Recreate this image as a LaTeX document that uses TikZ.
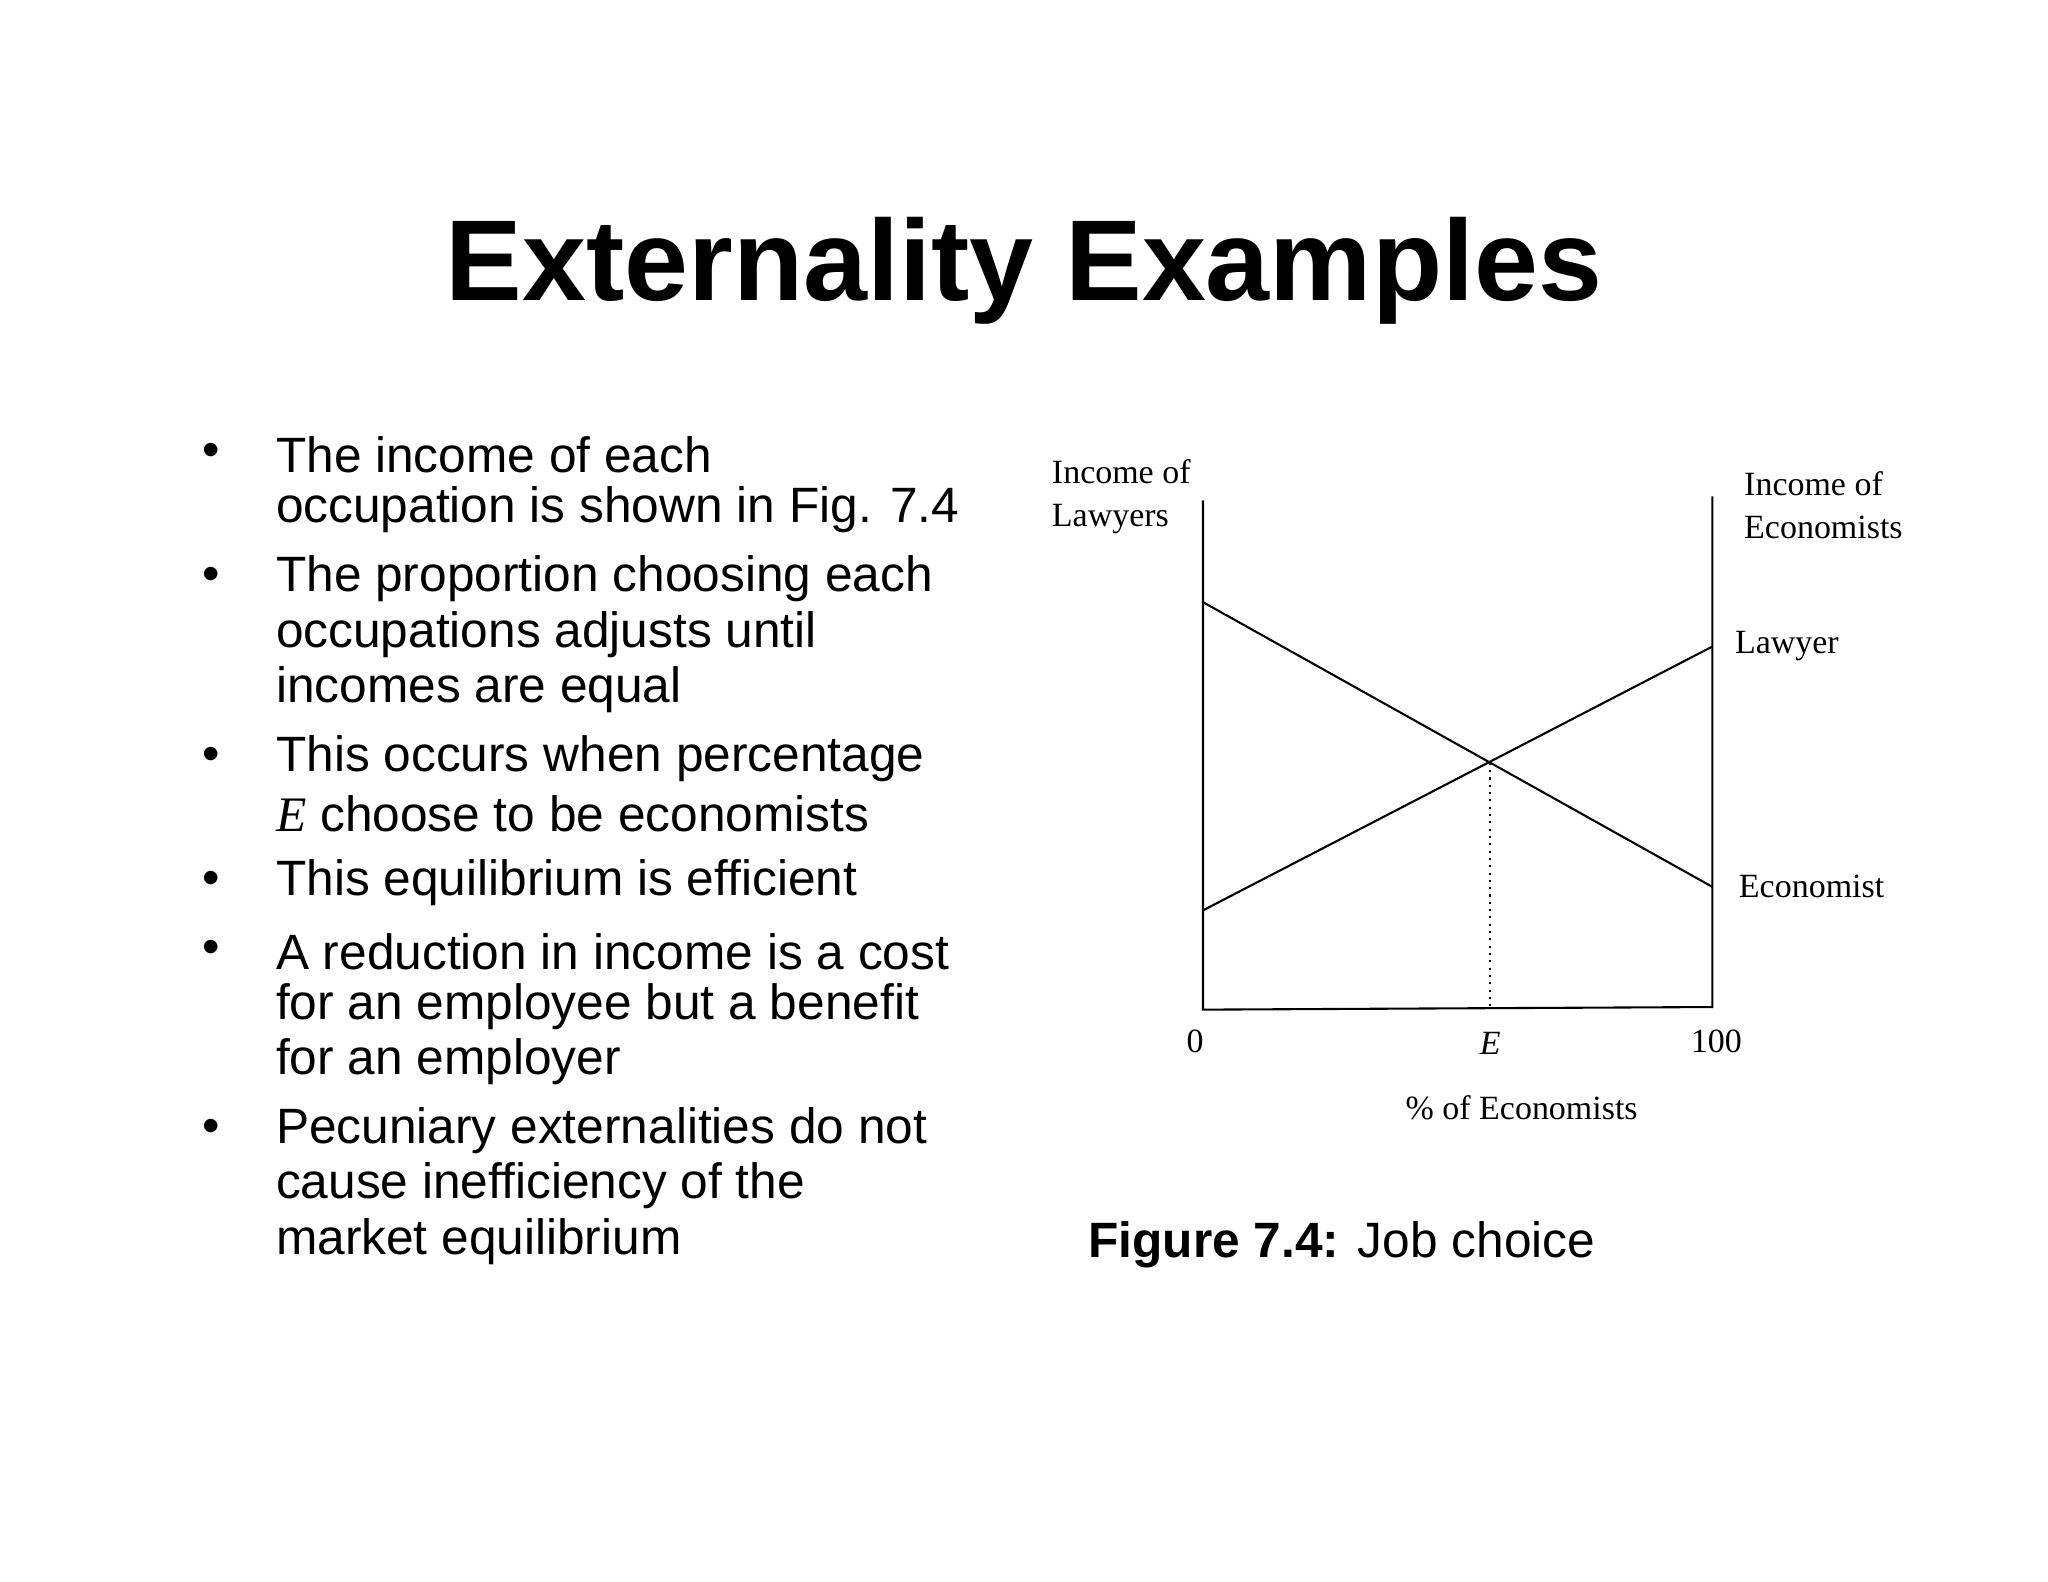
\documentclass[tikz,border=0pt]{standalone}
\usepackage{fontspec}
\setmainfont{Liberation Sans}
\newfontfamily\serifx{Liberation Serif}
\begin{document}
\begin{tikzpicture}[x=0.5pt,y=-0.5pt,
  bl/.style={anchor=west,inner sep=0pt,font=\fontsize{19}{21}\selectfont},
  ch/.style={inner sep=0pt,font=\serifx\fontsize{13}{16.5}\selectfont},
  ln/.style={line width=0.8pt}]
\fill[white] (0,0) rectangle (1568,1211);
\useasboundingbox (0,0) rectangle (1568,1211);
\node[inner sep=0pt,font=\bfseries\fontsize{44}{50}\selectfont] (title) at (784,207) {Externality Examples};
% bullets
\foreach \y in {348,443,581,676,729,866} \node[bl] at (155,\y) {•};
\node[bl] (b1a) at (211,348) {The income of each};
\node[bl] (b1b) at (211,390) {occupation is shown in Fig. 7.4};
\node[bl] (b2a) at (211,443) {The proportion choosing each};
\node[bl] (b2b) at (211,486) {occupations adjusts until};
\node[bl] (b2c) at (211,528) {incomes are equal};
\node[bl] (b3a) at (211,581) {This occurs when percentage};
\node[bl] (b3b) at (211,623) {{\serifx\itshape E} choose to be economists};
\node[bl] (b4a) at (211,676) {This equilibrium is efficient};
\node[bl] (b5a) at (211,729) {A reduction in income is a cost};
\node[bl] (b5b) at (211,771) {for an employee but a benefit};
\node[bl] (b5c) at (211,813) {for an employer};
\node[bl] (b6a) at (211,866) {Pecuniary externalities do not};
\node[bl] (b6b) at (211,908) {cause inefficiency of the};
\node[bl] (b6c) at (211,951) {market equilibrium};
% chart
\coordinate (lt) at (921,383); \coordinate (lb) at (921,773);
\coordinate (rt) at (1311,380); \coordinate (rb) at (1311,771);
\coordinate (d1) at (921,461); \coordinate (d2) at (1311,679);
\coordinate (u1) at (921,697); \coordinate (u2) at (1311,495);
\coordinate (eq) at (1141,584); \coordinate (eb) at (1141,772);
\draw[ln] (lt) -- (lb) -- (rb) -- (rt);
\draw[ln] (d1) -- (d2);
\draw[ln] (u1) -- (u2);
\draw[line width=0.8pt,dotted] (eq) -- (eb);
\node[ch,anchor=west,align=left] (yl) at (805,380) {Income of\\Lawyers};
\node[ch,anchor=west,align=left] (yr) at (1335,387) {Income of\\Economists};
\node[ch,anchor=west] (law) at (1328,495) {Lawyer};
\node[ch,anchor=west] (eco) at (1331,679) {Economist};
\node[ch] (x0) at (915,797) {0};
\node[ch] (xe) at (1141,799) {\itshape E};
\node[ch] (x100) at (1314,797) {100};
\node[ch] (xl) at (1165,848) {\% of Economists};
\node[anchor=west,inner sep=0pt,font=\fontsize{19}{21}\selectfont] (cap) at (833,953) {\textbf{Figure 7.4:} Job choice};
\end{tikzpicture}
\end{document}
